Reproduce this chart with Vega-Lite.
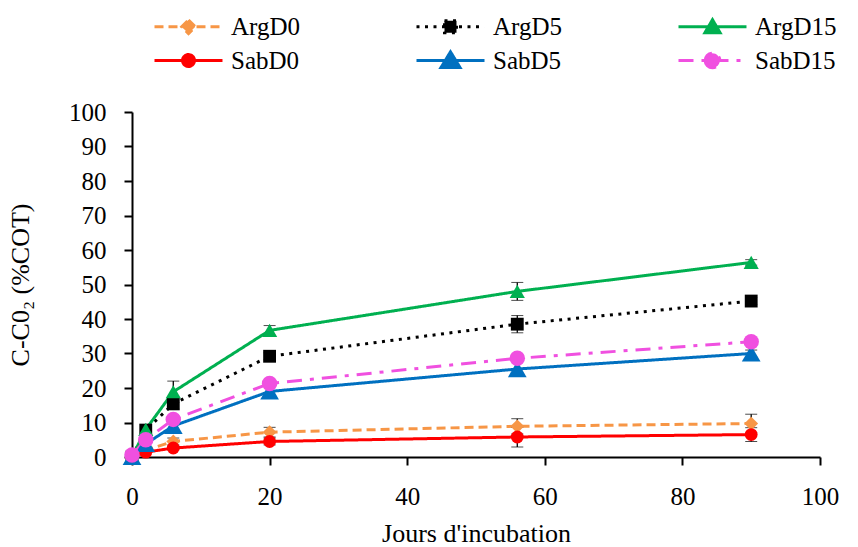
{
  "$schema": "https://vega.github.io/schema/vega-lite/v6.json",
  "width": 688,
  "height": 345,
  "autosize": {"type": "none"},
  "padding": {"left": 132, "top": 112, "right": 38, "bottom": 90},
  "background": "white",
  "config": {
    "view": {"stroke": null},
    "font": "Liberation Serif",
    "axis": {
      "domainColor": "black", "domainWidth": 2, "tickColor": "black", "tickWidth": 2, "tickSize": 8,
      "grid": false, "labelFont": "Liberation Serif", "labelFontSize": 25, "labelColor": "black", "labelFlush": false,
      "titleFont": "Liberation Serif", "titleFontSize": 26, "titleFontWeight": "normal", "titleColor": "black"
    }
  },
  "data": {"values": [
    {"day": 0, "series": "ArgD0", "value": 0, "err": 0},
    {"day": 2, "series": "ArgD0", "value": 2, "err": 0},
    {"day": 6, "series": "ArgD0", "value": 4.5, "err": 1},
    {"day": 20, "series": "ArgD0", "value": 7.2, "err": 1.4},
    {"day": 56, "series": "ArgD0", "value": 8.9, "err": 2.2},
    {"day": 90, "series": "ArgD0", "value": 9.7, "err": 2.7},
    {"day": 0, "series": "ArgD5", "value": 0, "err": 0},
    {"day": 2, "series": "ArgD5", "value": 7.8, "err": 0},
    {"day": 6, "series": "ArgD5", "value": 15.4, "err": 1.5},
    {"day": 20, "series": "ArgD5", "value": 29.2, "err": 1},
    {"day": 56, "series": "ArgD5", "value": 38.5, "err": 2.5},
    {"day": 90, "series": "ArgD5", "value": 45.2, "err": 1},
    {"day": 0, "series": "ArgD15", "value": 0, "err": 0},
    {"day": 2, "series": "ArgD15", "value": 8, "err": 0},
    {"day": 6, "series": "ArgD15", "value": 18.9, "err": 3.1},
    {"day": 20, "series": "ArgD15", "value": 36.7, "err": 1.4},
    {"day": 56, "series": "ArgD15", "value": 48, "err": 2.6},
    {"day": 90, "series": "ArgD15", "value": 56.4, "err": 0.8},
    {"day": 0, "series": "SabD0", "value": 0, "err": 0},
    {"day": 2, "series": "SabD0", "value": 1.4, "err": 0},
    {"day": 6, "series": "SabD0", "value": 2.6, "err": 0.5},
    {"day": 20, "series": "SabD0", "value": 4.5, "err": 1},
    {"day": 56, "series": "SabD0", "value": 5.8, "err": 2.9},
    {"day": 90, "series": "SabD0", "value": 6.5, "err": 2},
    {"day": 0, "series": "SabD5", "value": 0, "err": 0},
    {"day": 2, "series": "SabD5", "value": 3.8, "err": 0},
    {"day": 6, "series": "SabD5", "value": 9, "err": 0},
    {"day": 20, "series": "SabD5", "value": 19, "err": 0},
    {"day": 56, "series": "SabD5", "value": 25.5, "err": 0},
    {"day": 90, "series": "SabD5", "value": 30, "err": 1},
    {"day": 0, "series": "SabD15", "value": 0.6, "err": 0},
    {"day": 2, "series": "SabD15", "value": 5, "err": 0},
    {"day": 6, "series": "SabD15", "value": 10.9, "err": 0},
    {"day": 20, "series": "SabD15", "value": 21.3, "err": 0},
    {"day": 56, "series": "SabD15", "value": 28.6, "err": 0},
    {"day": 90, "series": "SabD15", "value": 33.4, "err": 0}
  ]},
  "encoding": {
    "x": {"field": "day", "type": "quantitative",
      "scale": {"domain": [0, 100], "nice": false},
      "axis": {"values": [0, 20, 40, 60, 80, 100], "title": "Jours d'incubation", "labelPadding": 19, "titlePadding": 11}},
    "y": {"field": "value", "type": "quantitative",
      "scale": {"domain": [0, 100], "nice": false},
      "axis": {"values": [0, 10, 20, 30, 40, 50, 60, 70, 80, 90, 100], "title": "C-C0₂ (%COT)", "labelPadding": 18, "titlePadding": 35}},
    "color": {"field": "series", "type": "nominal",
      "scale": {"domain": ["ArgD0", "ArgD5", "ArgD15", "SabD0", "SabD5", "SabD15"],
                "range": ["#F79646", "#000000", "#00B050", "#FF0000", "#0070C0", "#F050E0"]},
      "legend": null}
  },
  "layer": [
    {
      "transform": [{"filter": "datum.day < 0"}],
      "mark": {"type": "point", "filled": true, "opacity": 1},
      "encoding": {
        "color": {"field": "series", "type": "nominal",
          "legend": {
            "orient": "none", "legendX": 41, "legendY": -101, "columns": 3, "direction": "horizontal", "title": null,
            "labelFont": "Liberation Serif", "labelFontSize": 25, "labelColor": "black",
            "symbolSize": 740, "symbolStrokeWidth": 3, "symbolOpacity": 1,
            "labelOffset": 27, "columnPadding": 110, "rowPadding": 5
          }},
        "shape": {"field": "series", "type": "nominal",
          "scale": {"domain": ["ArgD0", "ArgD5", "ArgD15", "SabD0", "SabD5", "SabD15"],
                    "range": [
                      "M-2.5,0H2.5M0,-0.5L0.5,0L0,0.5L-0.5,0Z",
                      "M-2.5,0H2.5M-0.44,-0.44H0.44V0.44H-0.44Z",
                      "M-2.5,0H2.5M0,-0.52L0.56,0.44L-0.56,0.44Z",
                      "M-2.5,0H2.5M-0.44,0A0.44,0.44,0,1,0,0.44,0A0.44,0.44,0,1,0,-0.44,0Z",
                      "M-2.5,0H2.5M0,-0.64L0.7,0.52L-0.7,0.52Z",
                      "M-2.5,0H2.5M-0.54,0A0.54,0.54,0,1,0,0.54,0A0.54,0.54,0,1,0,-0.54,0Z"
                    ]}}
      }
    },
    {
      "mark": {"type": "line", "strokeWidth": 3},
      "encoding": {
        "color": {"field": "series", "type": "nominal", "legend": null},
        "strokeDash": {"field": "series", "type": "nominal",
          "scale": {"domain": ["ArgD0", "ArgD5", "ArgD15", "SabD0", "SabD5", "SabD15"],
                    "range": [[9, 5], [3, 5.5], [1, 0], [1, 0], [1, 0], [15, 8, 4, 8]]}}
      }
    },
    {
      "transform": [{"filter": "datum.err > 0"}],
      "mark": {"type": "errorbar", "ticks": {"size": 12, "color": "black", "strokeWidth": 1.3}, "rule": {"color": "black", "strokeWidth": 1.3}},
      "encoding": {
        "y": {"field": "value", "type": "quantitative"},
        "yError": {"field": "err"},
        "color": {"value": "black"}
      }
    },
    {"transform": [{"filter": "datum.series === 'ArgD0'"}], "mark": {"type": "point", "filled": true, "opacity": 1, "strokeWidth": 0, "shape": "diamond", "size": 190}},
    {"transform": [{"filter": "datum.series === 'ArgD5'"}], "mark": {"type": "point", "filled": true, "opacity": 1, "strokeWidth": 0, "shape": "square", "size": 165}},
    {"transform": [{"filter": "datum.series === 'ArgD15'"}], "mark": {"type": "point", "filled": true, "opacity": 1, "strokeWidth": 0, "shape": "triangle-up", "size": 230}},
    {"transform": [{"filter": "datum.series === 'SabD0'"}], "mark": {"type": "point", "filled": true, "opacity": 1, "strokeWidth": 0, "shape": "circle", "size": 165}},
    {"transform": [{"filter": "datum.series === 'SabD5'"}], "mark": {"type": "point", "filled": true, "opacity": 1, "strokeWidth": 0, "shape": "triangle-up", "size": 350}},
    {"transform": [{"filter": "datum.series === 'SabD15'"}], "mark": {"type": "point", "filled": true, "opacity": 1, "strokeWidth": 0, "shape": "circle", "size": 240}}
  ]
}
